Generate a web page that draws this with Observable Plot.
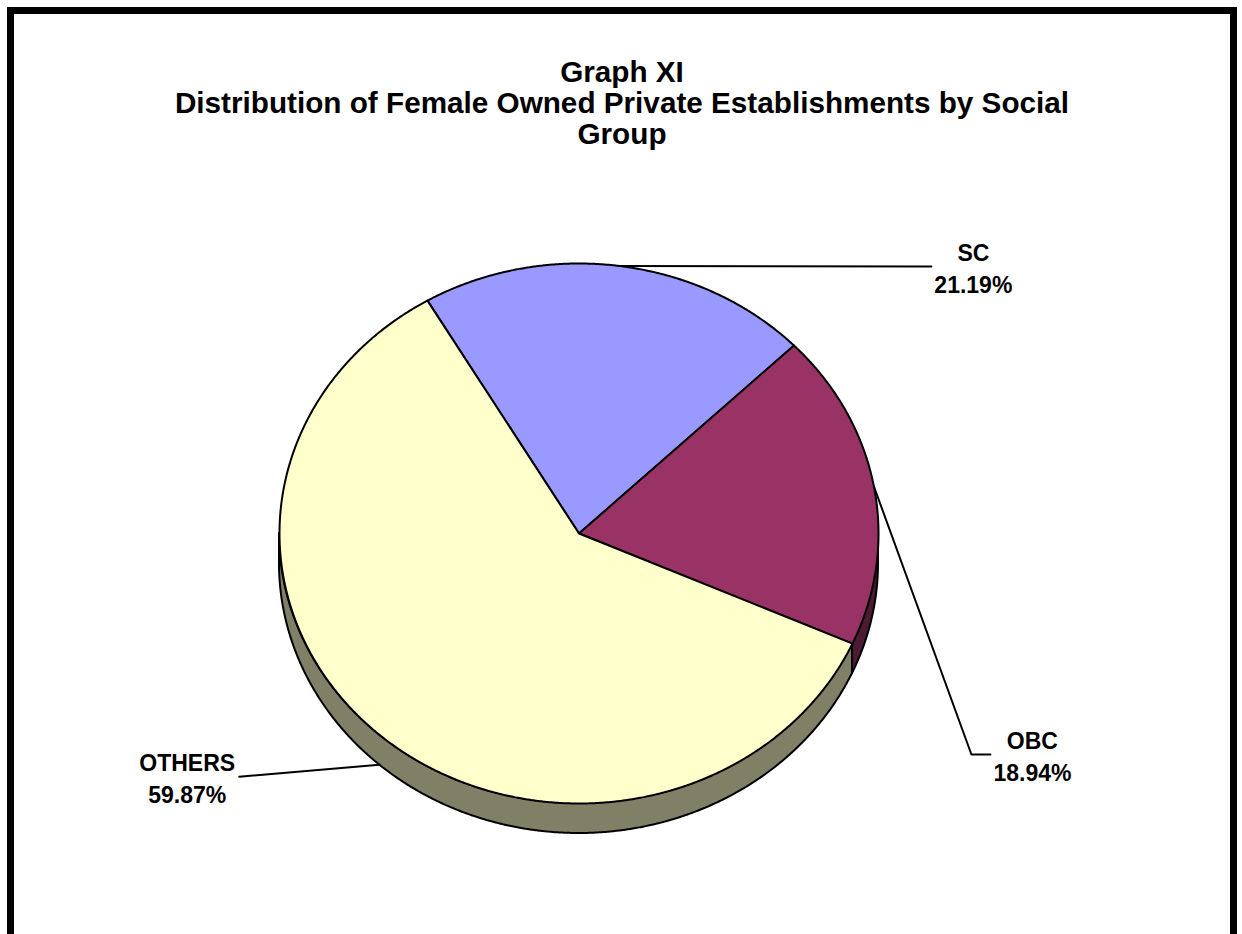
<!DOCTYPE html>
<html>
<head>
<meta charset="utf-8">
<script src="https://cdn.jsdelivr.net/npm/d3@7"></script>
<script src="https://cdn.jsdelivr.net/npm/@observablehq/plot@0.6"></script>
<style>
  html, body { margin: 0; padding: 0; background: #fff; }
  #page { position: relative; width: 1242px; height: 934px; overflow: hidden; background: #fff;
          font-family: "Liberation Sans", Arial, Helvetica, sans-serif; }
  #frame { position: absolute; left: 7px; top: 7px; width: 1230px; height: 1000px;
           border: 7px solid #000; box-sizing: border-box; }
  #title { position: absolute; left: 0; width: 1244px; top: 56px; text-align: center;
           font-weight: bold; font-size: 29.7px; line-height: 31px; color: #000; }
  #chart { position: absolute; left: 0; top: 160px; }
</style>
</head>
<body>
<div id="page">
  <div id="frame"></div>
  <div id="title">Graph XI<br>Distribution of Female Owned Private Establishments by Social<br>Group</div>
  <div id="chart"></div>
</div>
<script>
// ---- data ----
const categories = ["SC", "OBC", "OTHERS"];
const shares = [21.19, 18.94, 59.87];
const shareLabels = ["21.19%", "18.94%", "59.87%"];
const topColors = ["#9999FF", "#993366", "#FFFFCC"];

// ---- layout (pixels inside the svg) ----
const W = 1242, H = 774;
const cx = 578.5, cy = 373, rx = 299.5, ry = 270, depth = 30;
const startDeg = -30.4;
// leader line end offsets from the slice anchor, and label offsets from the leader end
const leaderLayout = [
  {dx: 312, dy: 0.5, elbowDx: null, textDx: 42},
  {dx: 116.5, dy: 268, elbowDx: 97.5, textDx: 42},
  {dx: -140, dy: 12, elbowDx: null, textDx: -52}
];

const depthU = depth / ry;
const darker = c => { const r = d3.rgb(c); return d3.rgb(r.r * 0.5, r.g * 0.5, r.b * 0.5).formatHex(); };

const slices = categories.map((name, i) => ({name, share: shares[i], label: shareLabels[i], color: topColors[i], side: darker(topColors[i])}));
const start = startDeg * Math.PI / 180;
const arcs = d3.pie().sort(null).value(d => d.share).startAngle(start).endAngle(start + 2 * Math.PI)(slices);

const step = Math.PI / 720;
function arcPoints(a0, a1) {
  const n = Math.max(2, Math.ceil((a1 - a0) / step));
  const pts = [];
  for (let k = 0; k <= n; k++) {
    const a = a0 + (a1 - a0) * k / n;
    pts.push({x: Math.sin(a), y: Math.cos(a)});
  }
  return pts;
}

const marks = [];
// side walls (visible lower half)
for (const a of arcs) {
  const lo = Math.max(a.startAngle, Math.PI / 2);
  const hi = Math.min(a.endAngle, 3 * Math.PI / 2);
  if (lo < hi) {
    const pts = arcPoints(lo, hi).map(p => ({x: p.x, y: p.y, yb: p.y - depthU}));
    marks.push(Plot.areaY(pts, {x: "x", y1: "y", y2: "yb", fill: a.data.side, stroke: "#000", strokeWidth: 2, strokeLinejoin: "round"}));
  }
}
// top faces
for (const a of arcs) {
  const pts = [{x: 0, y: 0}, ...arcPoints(a.startAngle, a.endAngle), {x: 0, y: 0}];
  marks.push(Plot.line(pts, {x: "x", y: "y", fill: a.data.color, stroke: "#000", strokeWidth: 2, strokeLinejoin: "round"}));
}
// leader lines and labels
const labelRows = [];
arcs.forEach((a, i) => {
  const mid = (a.startAngle + a.endAngle) / 2;
  const ax = Math.sin(mid), ayTop = Math.cos(mid);
  const ay = ayTop < 0 ? ayTop - depthU : ayTop;
  const L = leaderLayout[i];
  const ex = ax + L.dx / rx, ey = ay - L.dy / ry;
  const pts = [{x: ax, y: ay}];
  if (L.elbowDx !== null) pts.push({x: ax + L.elbowDx / rx, y: ey});
  pts.push({x: ex, y: ey});
  marks.push(Plot.line(pts, {x: "x", y: "y", stroke: "#000", strokeWidth: 2}));
  labelRows.push({x: ex + L.textDx / rx, y: ey, text: a.data.name + "\n" + a.data.label});
});
marks.push(Plot.text(labelRows, {x: "x", y: "y", text: "text", fontSize: 23, fontWeight: "bold", lineHeight: 1.39, textAnchor: "middle", fill: "#000"}));

const chart = Plot.plot({
  width: W, height: H, margin: 0,
  x: {domain: [-1, 1], range: [cx - rx, cx + rx], axis: null},
  y: {domain: [-1, 1], range: [cy + ry, cy - ry], axis: null},
  style: {background: "transparent", fontFamily: "'Liberation Sans', Arial, Helvetica, sans-serif", overflow: "visible"},
  marks
});
document.getElementById("chart").appendChild(chart);
</script>
</body>
</html>
